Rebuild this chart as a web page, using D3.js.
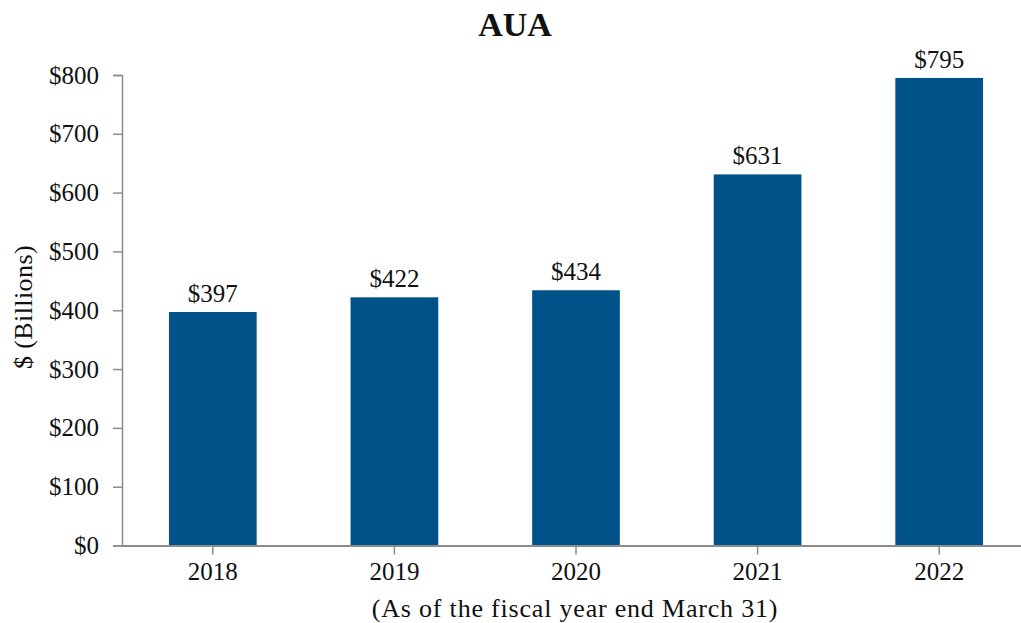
<!DOCTYPE html>
<html>
<head>
<meta charset="utf-8">
<script src="https://cdn.jsdelivr.net/npm/d3@7"></script>
<style>
    body { margin: 0; background: #fff; }
    svg text { font-family: "Liberation Serif", "Times New Roman", serif; fill: #111; }
</style>
</head>
<body>
<script>
    var years = ['2018', '2019', '2020', '2021', '2022'];
    var aua = [397, 422, 434, 631, 795];
    var yTicks = [0, 100, 200, 300, 400, 500, 600, 700, 800];

    var svgWidth = 1021;
    var svgHeight = 623;
    var barColor = '#02528a';
    var axisColor = '#8c8c8c';

    var svg = d3.select('body').append('svg')
        .attr('width', svgWidth)
        .attr('height', svgHeight);

    var x = d3.scaleBand()
        .domain(years)
        .range([122, 1030])
        .paddingInner(0.517)
        .paddingOuter(0.2585);

    var y = d3.scaleLinear()
        .domain([0, 800])
        .range([545.5, 75]);

    // bars
    svg.selectAll('rect.bar')
        .data(aua)
        .enter()
        .append('rect')
        .attr('class', 'bar')
        .attr('x', function (d, i) { return x(years[i]); })
        .attr('width', x.bandwidth())
        .attr('y', function (d) { return y(d); })
        .attr('height', function (d) { return y(0) - y(d); })
        .attr('fill', barColor);

    // value labels
    svg.selectAll('text.val')
        .data(aua)
        .enter()
        .append('text')
        .attr('class', 'val')
        .attr('x', function (d, i) { return x(years[i]) + x.bandwidth() / 2; })
        .attr('y', function (d) { return y(d) - 10; })
        .attr('text-anchor', 'middle')
        .style('font-size', '25px')
        .text(function (d) { return '$' + d; });

    // y axis
    var yAxis = svg.append('g')
        .attr('transform', 'translate(122,0)')
        .call(d3.axisLeft(y).tickValues(yTicks).tickSize(9).tickPadding(14)
            .tickFormat(function (d) { return '$' + d; }));
    yAxis.select('.domain').attr('stroke', axisColor).attr('stroke-width', 1.5);
    yAxis.selectAll('.tick line').attr('stroke', axisColor).attr('stroke-width', 1.5);
    yAxis.selectAll('.tick text').style('font-size', '25px').attr('fill', '#111');

    // x axis
    var xAxis = svg.append('g')
        .attr('transform', 'translate(0,' + y(0) + ')')
        .call(d3.axisBottom(x).tickSize(9).tickSizeOuter(0).tickPadding(8));
    xAxis.select('.domain').attr('stroke', axisColor).attr('stroke-width', 2);
    xAxis.selectAll('.tick line').attr('stroke', axisColor).attr('stroke-width', 1.5);
    xAxis.selectAll('.tick text').style('font-size', '25px').attr('fill', '#111');

    // title
    svg.append('text')
        .attr('x', 515)
        .attr('y', 36)
        .attr('text-anchor', 'middle')
        .style('font-size', '34px')
        .style('font-weight', 'bold')
        .text('AUA');

    // axis titles
    svg.append('text')
        .attr('x', 575)
        .attr('y', 617)
        .attr('text-anchor', 'middle')
        .style('font-size', '26px')
        .style('letter-spacing', '0.8px')
        .text('(As of the fiscal year end March 31)');

    svg.append('text')
        .attr('transform', 'translate(32,307) rotate(-90)')
        .attr('text-anchor', 'middle')
        .style('font-size', '26px')
        .style('letter-spacing', '0.4px')
        .text('$ (Billions)');
</script>
</body>
</html>
